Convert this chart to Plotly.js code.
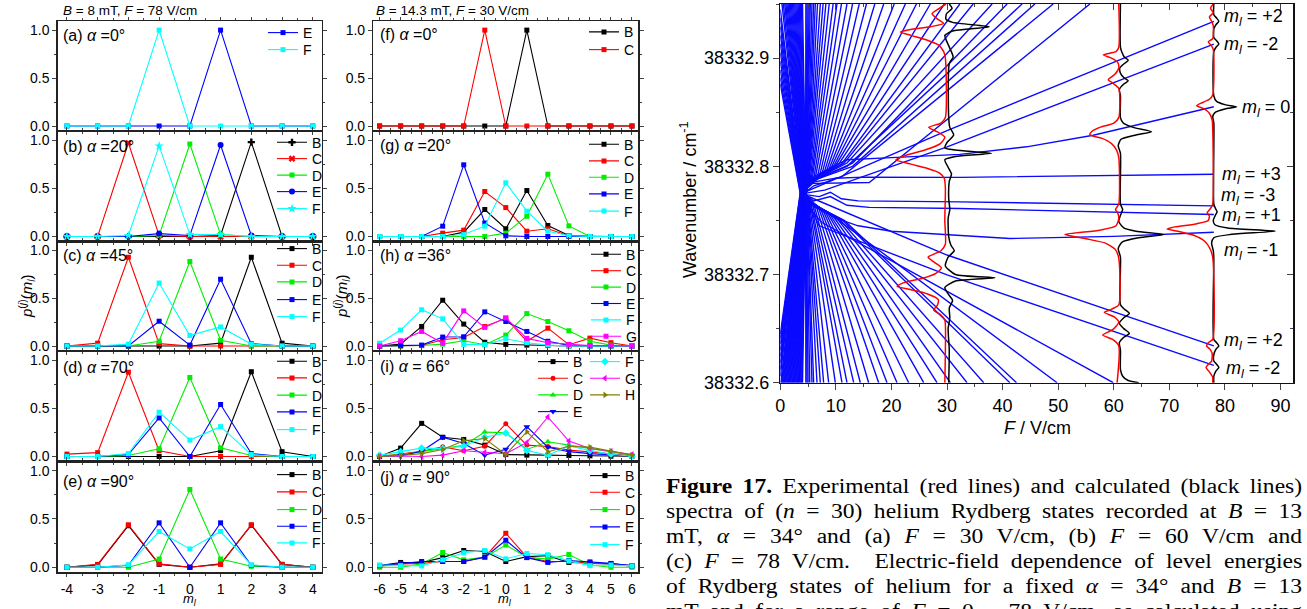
<!DOCTYPE html>
<html><head><meta charset="utf-8">
<script src="https://cdn.plot.ly/plotly-3.0.1.min.js"></script>
<style>
html,body{margin:0;padding:0;background:#fff;overflow:hidden;width:1307px;height:609px;}
#chart{position:absolute;left:0;top:0;width:1307px;height:609px;}
.cap{position:absolute;left:666px;width:540px;transform:scaleX(1.178);transform-origin:0 0;font-family:"Liberation Serif","DejaVu Serif",serif;font-size:20px;line-height:25px;height:25px;text-align:justify;text-align-last:justify;color:#000;}
</style></head>
<body>
<div id="chart"></div>
<div class="cap" style="top:474px"><b>Figure 17.</b> Experimental (red lines) and calculated (black lines)</div>
<div class="cap" style="top:499px">spectra of (<i>n</i> = 30) helium Rydberg states recorded at <i>B</i> = 13</div>
<div class="cap" style="top:524px">mT, <i>α</i> = 34° and (a) <i>F</i> = 30 V/cm, (b) <i>F</i> = 60 V/cm and</div>
<div class="cap" style="top:549px">(c) <i>F</i> = 78 V/cm.&nbsp; Electric-field dependence of level energies</div>
<div class="cap" style="top:574px">of Rydberg states of helium for a fixed <i>α</i> = 34° and <i>B</i> = 13</div>
<div class="cap" style="top:599px">mT and for a range of <i>F</i> = 0 – 78 V/cm, as calculated using</div>
<script>
// ---------------- data: left column (B = 8 mT, F = 78 V/cm) ----------------
const mlLeft = [-4,-3,-2,-1,0,1,2,3,4];
const a_E = [0,0,0,0,0,1,0,0,0];
const a_F = [0,0,0,1,0,0,0,0,0];
const b_B = [0,0,0,0,0,0.01,0.98,0,0];
const b_C = [0,0,0.97,0.01,0,0,0,0,0];
const b_D = [0,0,0,0.01,0.96,0.02,0,0,0];
const b_E = [0,0,0,0.03,0.01,0.95,0.01,0,0];
const b_F = [0,0,0.01,0.94,0.02,0.02,0,0,0];
const c_B = [0,0,0,0,0,0.03,0.93,0.03,0];
const c_C = [0,0.03,0.93,0.025,0,0,0,0,0];
const c_D = [0,0,0,0.05,0.885,0.06,0,0,0];
const c_E = [0,0,0,0.26,0.01,0.70,0.025,0,0];
const c_F = [0,0,0.02,0.66,0.11,0.20,0.02,0,0];
const d_B = [0,0,0,0,0,0.06,0.88,0.05,0];
const d_C = [0.025,0.04,0.875,0.06,0,0,0,0,0];
const d_D = [0,0,0.01,0.08,0.82,0.09,0.01,0,0];
const d_E = [0,0,0.02,0.40,0,0.54,0.03,0,0];
const d_F = [0,0,0.03,0.46,0.17,0.31,0.02,0,0];
const e_B = [0,0.025,0.43,0.03,0,0.035,0.435,0.03,0];
const e_C = [0,0.03,0.44,0.035,0,0.03,0.44,0.03,0];
const e_D = [0,0,0,0.085,0.805,0.085,0.01,0,0];
const e_E = [0,0,0.02,0.46,0,0.46,0.02,0,0];
const e_F = [0,0,0.025,0.37,0.19,0.37,0.025,0,0];
// ---------------- data: middle column (B = 14.3 mT, F = 30 V/cm) ----------------
const mlMid = [-6,-5,-4,-3,-2,-1,0,1,2,3,4,5,6];
const f_B = [0,0,0,0,0,0,0,1,0,0,0,0,0];
const f_C = [0,0,0,0,0,1,0,0,0,0,0,0,0];
const g_B = [0,0,0,0,0.045,0.28,0.08,0.477,0.114,0.01,0,0,0];
const g_C = [0,0,0,0.035,0.066,0.467,0.30,0.055,0.08,0.007,0,0,0];
const g_D = [0,0,0,0,0,0,0.035,0.21,0.647,0.11,0,0,0];
const g_E = [0,0,0,0.107,0.744,0.14,0.007,0,0,0,0,0,0];
const g_F = [0,0,0,0,0.02,0.107,0.557,0.263,0.055,0.007,0,0,0];
const h_B = [0,0.02,0.205,0.48,0.23,0.04,0.017,0.01,0.005,0,0,0,0];
const h_C = [0,0,0.005,0.066,0.09,0.205,0.29,0.05,0.187,0.014,0.083,0.035,0];
const h_D = [0,0,0.005,0.02,0.055,0.014,0.115,0.34,0.257,0.16,0.05,0.01,0];
const h_E = [0,0.005,0.01,0.094,0.097,0.358,0.257,0.153,0.05,0.007,0,0,0];
const h_F = [0.03,0.167,0.38,0.285,0.017,0.014,0.076,0.035,0.01,0,0,0,0];
const h_G = [0,0.055,0.153,0.03,0.368,0.195,0.295,0.08,0.035,0.017,0.005,0.005,0];
const i_B = [0,0.087,0.344,0.2,0.177,0.118,0.02,0.014,0.014,0.01,0.007,0.003,0.003];
const i_C = [0,0.024,0.055,0.1,0.06,0.107,0.34,0.118,0.104,0.066,0.05,0.028,0.007];
const i_D = [0.007,0.017,0.05,0.083,0.115,0.253,0.246,0.073,0.153,0.118,0.083,0.05,0.014];
const i_E = [0,0.007,0.055,0.2,0.135,0.014,0.076,0.31,0.097,0.05,0.03,0.014,0.003];
const i_F = [0.014,0.05,0.087,0.083,0.107,0.2,0.243,0.062,0.014,0.11,0.062,0.024,0.003];
const i_G = [0,0.005,0,0.014,0.06,0.042,0.028,0.146,0.41,0.16,0.083,0.055,0.02];
const i_H = [0,0.01,0.03,0.073,0.163,0.187,0.02,0.257,0.05,0.107,0.097,0.055,0.014];
const j_B = [0.017,0.05,0.05,0.1,0.174,0.164,0.06,0.11,0.12,0.05,0.045,0.035,0.017];
const j_C = [0.01,0.035,0.04,0.06,0.06,0.105,0.352,0.105,0.06,0.06,0.04,0.035,0.01];
const j_D = [0,0,0.035,0.153,0.077,0.105,0.23,0.105,0.084,0.132,0.024,0,0];
const j_E = [0.017,0.038,0.06,0.06,0.06,0.105,0.28,0.1,0.05,0.07,0.056,0.04,0.014];
const j_F = [0.024,0.017,0.014,0.077,0.15,0.174,0.087,0.143,0.13,0.066,0.017,0.024,0.014];

// ---------------- data: Stark map (F in V/cm, wavenumber in cm^-1) ----------------
// levels coming from the upper left, crossing near F = 4 V/cm, leaving through the bottom edge
const upInF   = [4.0,3.8,3.6,3.4,3.2,3.0,2.8,2.6,2.4,2.2,2.0,1.8,1.6,1.4,1.2,1.0,0.8,0.55,0.3,0,0,0,0,0,0,0,0,0,0];
const upInW   = [38332.95,38332.95,38332.95,38332.95,38332.95,38332.95,38332.95,38332.95,38332.95,38332.95,38332.95,38332.95,38332.95,38332.95,38332.95,38332.95,38332.95,38332.95,38332.95,
                 38332.945,38332.937,38332.929,38332.921,38332.913,38332.905,38332.897,38332.889,38332.882,38332.876];
const upMidF  = [4.50,4.47,4.45,4.42,4.40,4.37,4.35,4.32,4.30,4.27,4.25,4.22,4.20,4.17,4.15,4.12,4.10,4.07,4.05,4.02,4.00,3.97,3.95,3.92,3.90,3.87,3.85,3.82,3.80];
const upMidW  = [38332.783,38332.7825,38332.782,38332.7815,38332.781,38332.7805,38332.780,38332.7795,38332.779,38332.7785,38332.778,38332.7775,38332.777,38332.7765,38332.776,38332.7755,38332.775,38332.7745,38332.774,38332.7735,38332.773,38332.7725,38332.772,38332.7715,38332.771,38332.7705,38332.770,38332.7695,38332.769];
const upBendF = [4.55,4.6,4.65,4.7,4.75,4.8,4.85,4.9,4.95,5.05,5.2,5.4,5.6,5.9,6.2,6.6,7.0,7.4,7.8,8.2,8.6,9.0,9.5,10.0,10.5,11.0,11.5,10.0,7.5];
const upBendW = [38332.780,38332.778,38332.776,38332.774,38332.772,38332.771,38332.770,38332.769,38332.768,38332.767,38332.766,38332.765,38332.764,38332.763,38332.762,38332.761,38332.760,38332.759,38332.758,38332.757,38332.756,38332.755,38332.754,38332.753,38332.752,38332.751,38332.750,38332.752,38332.748];
const upOutF  = [4.6,4.8,5.0,5.3,5.7,6.0,6.6,7.2,7.8,8.7,9.9,11.1,12.0,13.2,14.4,15.9,17.7,19.2,21.0,23.1,25.8,28.2,30.6,33.6,36.6,41.3,42.5,49.8,59.9];
// levels coming from the lower left, crossing near F = 4 V/cm, leaving through the top edge
const loInF   = [4.0,3.85,3.7,3.55,3.4,3.25,3.1,2.95,2.8,2.65,2.5,2.35,2.2,2.05,1.9,1.75,1.6,1.45,1.3,1.15,1.0,0.85,0.7,0.55,0.4,0.25,0.1,0,0,0,0,0,0,0,0];
const loInW   = [38332.6,38332.6,38332.6,38332.6,38332.6,38332.6,38332.6,38332.6,38332.6,38332.6,38332.6,38332.6,38332.6,38332.6,38332.6,38332.6,38332.6,38332.6,38332.6,38332.6,38332.6,38332.6,38332.6,38332.6,38332.6,38332.6,38332.6,
                 38332.606,38332.612,38332.618,38332.624,38332.630,38332.636,38332.641,38332.645];
const loMidF  = [4.50,4.48,4.46,4.44,4.42,4.40,4.38,4.36,4.34,4.32,4.30,4.28,4.26,4.24,4.22,4.20,4.18,4.16,4.14,4.12,4.10,4.08,4.06,4.04,4.02,4.00,3.98,3.96,3.94,3.92,3.90,3.88,3.86,3.84,3.82];
const loMidW  = [38332.767,38332.7675,38332.768,38332.7685,38332.769,38332.7695,38332.770,38332.7705,38332.771,38332.7715,38332.772,38332.7725,38332.773,38332.7735,38332.774,38332.7745,38332.775,38332.7755,38332.776,38332.7765,38332.777,38332.7775,38332.778,38332.7785,38332.779,38332.7795,38332.780,38332.7805,38332.781,38332.7815,38332.782,38332.7825,38332.783,38332.7835,38332.784];
const loBendF = [4.55,4.6,4.65,4.7,4.75,4.8,4.85,4.9,4.95,5.0,5.05,5.2,5.4,5.6,5.8,6.1,6.4,6.8,7.2,7.6,8.0,8.4,8.8,9.2,9.6,10.0,10.5,11.0,11.5,12.0,13.0,12.0,13.0,11.0,16.0];
const loBendW = [38332.769,38332.771,38332.773,38332.775,38332.777,38332.779,38332.781,38332.782,38332.783,38332.784,38332.785,38332.787,38332.788,38332.789,38332.790,38332.791,38332.792,38332.793,38332.794,38332.795,38332.796,38332.797,38332.798,38332.799,38332.800,38332.801,38332.802,38332.802,38332.803,38332.803,38332.803,38332.800,38332.800,38332.790,38332.785];
const loOutF  = [4.6,4.8,5.0,5.2,5.4,5.7,6.0,6.3,6.7,7.2,7.7,8.2,8.8,9.5,10.2,11.0,12.0,13.0,14.2,15.5,17.0,18.6,20.5,22.5,24.5,27.0,29.5,32.3,34.7,38.1,40.8,43.5,45.8,49.1,55.7];
// levels followed up to F = 78 V/cm (labelled m_l)
const lvlP2upF = [4.3,8,30,61,78],                 lvlP2upW = [38332.776,38332.784,38332.833,38332.898,38332.934];
const lvlM2upF = [4.3,8,30,61,78],                 lvlM2upW = [38332.775,38332.778,38332.818,38332.879,38332.913];
const lvl0F    = [4.3,7,9.5,12,20,32.3,44.3,56.3,78], lvl0W = [38332.777,38332.790,38332.800,38332.806,38332.808,38332.811,38332.818,38332.8287,38332.855];
const lvlP3F   = [4.3,6,8,10,15,32.3,78],          lvlP3W = [38332.775,38332.782,38332.785,38332.789,38332.790,38332.7898,38332.7926];
const lvlM3F   = [4.3,7,9,11,14,32.3,78],          lvlM3W = [38332.774,38332.772,38332.776,38332.770,38332.768,38332.7671,38332.7634];
const lvlP1F   = [4.3,6,9,12,16,32.3,78],          lvlP1W = [38332.774,38332.768,38332.772,38332.764,38332.762,38332.761,38332.7554];
const lvlM1F   = [4.3,7,10,14,20,32.3,41.3,60,78], lvlM1W = [38332.773,38332.762,38332.752,38332.745,38332.740,38332.7363,38332.7333,38332.7352,38332.739];
const lvlP2loF = [4.3,6,30,61,78],                 lvlP2loW = [38332.774,38332.770,38332.718,38332.664,38332.634];
const lvlM2loF = [4.3,7,30,61,78],                 lvlM2loW = [38332.773,38332.745,38332.6996,38332.6456,38332.616];
// spectra: calculated (black) and experimental (red), drawn as field offset vs wavenumber
const spec30bW = [38332.950,38332.946,38332.941,38332.936,38332.933,38332.929,38332.925,38332.921,38332.916,38332.908,38332.901,38332.895,38332.845,38332.836,38332.829,38332.822,38332.817,38332.815,38332.812,38332.809,38332.806,38332.800,38332.793,38332.786,38332.770,38332.760,38332.752,38332.735,38332.727,38332.722,38332.716,38332.708,38332.700,38332.697,38332.694,38332.688,38332.682,38332.676,38332.669,38332.660,38332.650,38332.630,38332.600];
const spec30bF = [30.4,30.9,29.9,29.8,31.0,37.6,31.0,29.6,29.9,30.6,31.1,30.4,30.3,30.5,31.2,30.0,29.6,31.5,38.0,31.5,29.6,30.1,30.8,30.4,30.3,30.5,30.2,30.3,30.7,31.3,30.2,29.7,31.5,38.6,31.5,29.6,30.2,31.0,30.4,30.5,30.2,30.4,30.3];
const spec30rW = [38332.950,38332.946,38332.941,38332.936,38332.932,38332.929,38332.926,38332.924,38332.921,38332.917,38332.912,38332.906,38332.900,38332.845,38332.840,38332.836,38332.832,38332.827,38332.821,38332.815,38332.810,38332.806,38332.802,38332.798,38332.794,38332.789,38332.780,38332.750,38332.728,38332.722,38332.716,38332.711,38332.706,38332.701,38332.697,38332.692,38332.689,38332.686,38332.682,38332.677,38332.672,38332.667,38332.663,38332.658,38332.630,38332.600];
const spec30rF = [29.8,28.6,27.3,28.3,29.4,27.0,23.0,21.6,23.5,26.2,28.5,29.4,29.7,29.7,28.9,26.7,28.2,29.6,28.8,26.0,22.5,20.8,23.5,26.5,28.6,29.5,29.7,29.6,29.7,28.9,26.6,27.8,29.0,28.0,26.0,22.0,21.0,23.5,26.5,28.4,28.3,27.6,28.8,29.6,29.7,29.6];
const spec61bW = [38332.950,38332.910,38332.905,38332.901,38332.898,38332.895,38332.891,38332.886,38332.882,38332.879,38332.876,38332.871,38332.865,38332.845,38332.840,38332.836,38332.832,38332.829,38332.825,38332.819,38332.812,38332.765,38332.760,38332.756,38332.749,38332.743,38332.740,38332.737,38332.734,38332.730,38332.724,38332.716,38332.672,38332.668,38332.664,38332.660,38332.655,38332.650,38332.6456,38332.642,38332.637,38332.630,38332.612,38332.606,38332.602,38332.600];
const spec61bF = [61.2,61.2,61.5,61.9,62.6,61.9,61.1,61.2,61.8,62.6,61.8,61.0,61.2,61.2,61.7,63.5,66.8,64.0,61.3,60.8,61.2,61.2,61.6,61.3,60.9,61.8,64.0,69.0,64.5,61.5,60.8,61.2,61.2,61.9,62.8,61.8,61.0,61.8,62.8,61.8,61.0,61.2,61.2,61.6,62.6,64.5];
const spec61rW = [38332.950,38332.910,38332.906,38332.903,38332.900,38332.896,38332.891,38332.885,38332.880,38332.877,38332.872,38332.845,38332.840,38332.836,38332.832,38332.829,38332.826,38332.821,38332.815,38332.808,38332.765,38332.760,38332.757,38332.752,38332.745,38332.741,38332.737,38332.733,38332.729,38332.723,38332.715,38332.672,38332.668,38332.665,38332.661,38332.656,38332.649,38332.644,38332.640,38332.634,38332.600];
const spec61rF = [60.9,60.9,60.4,58.1,59.6,60.7,60.9,60.2,59.0,59.8,60.9,60.9,60.0,57.5,56.0,55.7,57.8,59.6,60.5,60.9,60.9,60.3,60.7,60.9,60.4,57.5,51.2,55.0,58.5,60.3,60.9,60.9,59.6,58.3,60.0,60.9,59.8,58.0,59.8,60.9,60.6];
const spec78bW = [38332.950,38332.940,38332.937,38332.934,38332.931,38332.927,38332.919,38332.916,38332.913,38332.910,38332.906,38332.865,38332.860,38332.857,38332.855,38332.853,38332.850,38332.846,38332.840,38332.765,38332.761,38332.758,38332.755,38332.750,38332.746,38332.743,38332.740,38332.737,38332.734,38332.729,38332.722,38332.715,38332.640,38332.637,38332.634,38332.631,38332.626,38332.620,38332.617,38332.614,38332.611,38332.606,38332.600];
const spec78bF = [78.0,78.0,78.5,78.9,78.4,78.0,78.0,78.5,78.9,78.4,78.0,78.0,78.5,80.0,82.1,80.0,78.3,77.8,78.0,78.0,78.3,78.6,78.3,77.9,78.2,80.5,89.0,81.0,78.0,77.6,77.9,78.0,78.0,78.5,78.9,78.4,78.0,78.0,78.5,78.9,78.4,78.0,78.0];
const spec78rW = [38332.950,38332.946,38332.942,38332.938,38332.934,38332.930,38332.918,38332.915,38332.912,38332.908,38332.866,38332.862,38332.859,38332.856,38332.853,38332.849,38332.843,38332.835,38332.765,38332.761,38332.757,38332.754,38332.750,38332.747,38332.744,38332.742,38332.740,38332.736,38332.731,38332.724,38332.716,38332.640,38332.637,38332.634,38332.631,38332.627,38332.620,38332.617,38332.614,38332.610,38332.605,38332.600];
const spec78rF = [77.9,77.4,77.9,77.2,77.6,77.9,77.8,77.0,77.5,77.9,77.8,77.2,76.0,74.9,76.3,77.2,77.7,77.8,77.8,77.4,76.8,77.2,77.0,75.0,71.0,69.6,71.5,74.5,76.3,77.3,77.8,77.8,77.0,76.7,77.3,77.7,77.6,77.0,76.6,77.2,77.8,77.8];
// m_l labels of the levels at F = 78 V/cm
const mlLabels = ['+2','-2','0','+3','-3','+1','-1','+2','-2'];
// ---------------------------------------------------------------------------

const W = 1307, H = 609;
const px = v => v / W, py = v => 1 - v / H;
const COL = {B:'#000000', C:'#ff0000', D:'#00ee00', E:'#0000ff', F:'#00ffff', G:'#ff00ff', H:'#808000'};
const FONT = 'Liberation Sans, Arial, sans-serif';
const traces = [];
const layout = {
  width: W, height: H, margin: {l:0, r:0, t:0, b:0},
  paper_bgcolor: '#ffffff', plot_bgcolor: 'rgba(0,0,0,0)',
  font: {family: FONT, color: '#000', size: 14},
  showlegend: true, annotations: []
};

const colX = [[57.7, 322], [373.3, 638.3]];
const rows = [[21, 131], [131, 241.5], [241.5, 351], [351, 461.5], [461.5, 572.3]];
for (let c = 0; c < 2; c++) {
  for (let r = 0; r < 5; r++) {
    const n = c * 5 + r + 1;
    const tv = c === 0 ? mlLeft : mlMid;
    layout['xaxis' + n] = {
      domain: [px(colX[c][0]), px(colX[c][1])], range: c === 0 ? [-4.3, 4.3] : [-6.3, 6.3],
      anchor: 'y' + n, tickvals: tv, ticktext: tv.map(String), ticks: 'outside', ticklen: 3,
      showticklabels: r === 4, mirror: 'ticks', showline: true, linecolor: '#222', linewidth: 1.4,
      showgrid: false, zeroline: false, tickfont: {size: 14, family: FONT},
      minor: {ticks: 'outside', ticklen: 2, dtick: 0.5, tick0: 0}
    };
    layout['yaxis' + n] = {
      domain: [py(rows[r][1]), py(rows[r][0])], range: [-0.052, 1.095], anchor: 'x' + n,
      tickvals: [0, 0.5, 1], ticktext: ['0.0', '0.5', '1.0'], ticks: 'outside', ticklen: 4,
      mirror: 'ticks', showline: true, linecolor: '#222', linewidth: 1.4, showgrid: false, zeroline: false,
      tickfont: {size: 14, family: FONT}, minor: {ticks: 'outside', ticklen: 2, dtick: 0.25, tick0: 0}
    };
  }
}

// one legend per entry so that entries can sit as close together as in the figure
let legCount = 0;
function addPanel(n, xs, series, textX, ys) {
  series.forEach((s, k) => {
    const id = legCount === 0 ? 'legend' : 'legend' + (legCount + 1);
    legCount++;
    layout[id] = {x: px(textX - 40), y: py(ys[k]), xanchor: 'left', yanchor: 'middle',
      bgcolor: 'rgba(0,0,0,0)', borderwidth: 0, font: {size: 14, family: FONT}, itemwidth: 30};
    traces.push({
      type: 'scatter', mode: 'lines+markers', x: xs, y: s.y, name: s.name,
      xaxis: 'x' + n, yaxis: 'y' + n, legend: id, showlegend: true,
      line: {color: COL[s.name], width: 1.1},
      marker: {color: COL[s.name], size: s.size || 5, symbol: s.sym || 'square'},
      cliponaxis: false
    });
  });
}
addPanel(1, mlLeft, [{name:'E', y:a_E}, {name:'F', y:a_F}], 303, [33, 50]);
addPanel(2, mlLeft, [{name:'B', y:b_B, sym:'cross', size:6}, {name:'C', y:b_C, sym:'x', size:6}, {name:'D', y:b_D}, {name:'E', y:b_E, sym:'circle', size:6}, {name:'F', y:b_F, sym:'star', size:7}], 312, [142.7, 159, 175.5, 192, 209]);
addPanel(3, mlLeft, [{name:'B', y:c_B}, {name:'C', y:c_C}, {name:'D', y:c_D}, {name:'E', y:c_E}, {name:'F', y:c_F}], 312, [249, 265.7, 282.3, 300, 317]);
addPanel(4, mlLeft, [{name:'B', y:d_B}, {name:'C', y:d_C}, {name:'D', y:d_D}, {name:'E', y:d_E}, {name:'F', y:d_F}], 312, [361.7, 378.3, 395.5, 412.3, 430]);
addPanel(5, mlLeft, [{name:'B', y:e_B}, {name:'C', y:e_C}, {name:'D', y:e_D}, {name:'E', y:e_E}, {name:'F', y:e_F}], 312, [475, 492.3, 510, 526.7, 543.3]);
addPanel(6, mlMid, [{name:'B', y:f_B}, {name:'C', y:f_C}], 624, [32.3, 50]);
addPanel(7, mlMid, [{name:'B', y:g_B}, {name:'C', y:g_C}, {name:'D', y:g_D}, {name:'E', y:g_E}, {name:'F', y:g_F}], 624, [144.7, 161.3, 177.7, 194.3, 211.5]);
addPanel(8, mlMid, [{name:'B', y:h_B}, {name:'C', y:h_C}, {name:'D', y:h_D}, {name:'E', y:h_E}, {name:'F', y:h_F}, {name:'G', y:h_G}], 626, [254.7, 271.1, 287.5, 303.9, 320.3, 336.7]);
addPanel(9, mlMid, [{name:'B', y:i_B}, {name:'C', y:i_C, sym:'circle'}, {name:'D', y:i_D, sym:'triangle-up', size:6}, {name:'E', y:i_E, sym:'triangle-down', size:6}], 573, [362, 378.7, 395.3, 412]);
addPanel(9, mlMid, [{name:'F', y:i_F, sym:'diamond', size:6}, {name:'G', y:i_G, sym:'triangle-left', size:6}, {name:'H', y:i_H, sym:'triangle-right', size:6}], 625, [362, 378.7, 395.3]);
addPanel(10, mlMid, [{name:'B', y:j_B}, {name:'C', y:j_C}, {name:'D', y:j_D}, {name:'E', y:j_E}, {name:'F', y:j_F}], 625, [476, 492.7, 510, 527.3, 545]);

// ---------------- Stark map ----------------
const blueX = [], blueY = [];
upOutF.forEach((f, k) => {
  blueX.push(upInF[k], upMidF[k], upBendF[k], f, null);
  blueY.push(upInW[k], upMidW[k], upBendW[k], 38332.6, null);
});
loOutF.forEach((f, k) => {
  blueX.push(loInF[k], loMidF[k], loBendF[k], f, null);
  blueY.push(loInW[k], loMidW[k], loBendW[k], 38332.95, null);
});
[[lvlP2upF, lvlP2upW], [lvlM2upF, lvlM2upW], [lvl0F, lvl0W], [lvlP3F, lvlP3W], [lvlM3F, lvlM3W],
 [lvlP1F, lvlP1W], [lvlM1F, lvlM1W], [lvlP2loF, lvlP2loW], [lvlM2loF, lvlM2loW]].forEach(([fx, wy]) => {
  fx.forEach((f, k) => { blueX.push(f); blueY.push(wy[k]); });
  blueX.push(null); blueY.push(null);
});
traces.push({type: 'scatter', mode: 'lines', x: blueX, y: blueY, xaxis: 'x11', yaxis: 'y11',
  line: {color: '#0a0aff', width: 1.4}, showlegend: false, hoverinfo: 'skip'});
[[spec30bF, spec30bW, '#000'], [spec61bF, spec61bW, '#000'], [spec78bF, spec78bW, '#000'],
 [spec30rF, spec30rW, '#ff0000'], [spec61rF, spec61rW, '#ff0000'], [spec78rF, spec78rW, '#ff0000']].forEach(([fx, wy, col]) => {
  traces.push({type: 'scatter', mode: 'lines', x: fx, y: wy, xaxis: 'x11', yaxis: 'y11',
    line: {color: col, width: 1.5, shape: 'spline', smoothing: 0.6}, showlegend: false, hoverinfo: 'skip'});
});
traces.push({type: 'scatter', mode: 'lines', x: [null], y: [null], xaxis: 'x12', yaxis: 'y12', showlegend: false});

const rdom = [px(780.3), px(1293.3)], rdomY = [py(382.7), py(4)];
layout.xaxis11 = {domain: rdom, range: [0, 92.3], anchor: 'y11', dtick: 10, tick0: 0, ticks: 'outside', ticklen: 6,
  showline: true, mirror: true, linecolor: '#111', linewidth: 1.5, showgrid: false, zeroline: false,
  tickfont: {size: 18, family: FONT}, minor: {ticks: 'outside', ticklen: 3, dtick: 5, tick0: 0}};
layout.yaxis11 = {domain: rdomY, range: [38332.6, 38332.95], anchor: 'x11', dtick: 0.1, tick0: 38332.6, tickformat: '.1f',
  ticks: 'outside', ticklen: 6, showline: true, mirror: true, linecolor: '#111', linewidth: 1.5, showgrid: false, zeroline: false,
  tickfont: {size: 18, family: FONT}, minor: {ticks: 'outside', ticklen: 3, dtick: 0.05, tick0: 38332.6}};
layout.xaxis12 = {domain: rdom, range: [0, 92.3], overlaying: 'x11', side: 'top', anchor: 'y12', dtick: 10, tick0: 0,
  ticks: 'inside', ticklen: 6, showticklabels: false, showgrid: false, zeroline: false, showline: false,
  minor: {ticks: 'inside', ticklen: 3, dtick: 5, tick0: 0}};
layout.yaxis12 = {domain: rdomY, range: [38332.6, 38332.95], overlaying: 'y11', side: 'right', anchor: 'x12', dtick: 0.1, tick0: 38332.6,
  ticks: 'inside', ticklen: 6, showticklabels: false, showgrid: false, zeroline: false, showline: false,
  minor: {ticks: 'inside', ticklen: 3, dtick: 0.05, tick0: 38332.6}};

// ---------------- text ----------------
const A = layout.annotations;
function txt(x, y, t, size, opts) {
  A.push(Object.assign({xref: 'paper', yref: 'paper', x: px(x), y: py(y), text: t, showarrow: false,
    xanchor: 'left', yanchor: 'middle', font: {size: size, family: FONT, color: '#000'}}, opts || {}));
}
txt(61, 11, '<i>B</i> = 8 mT, <i>F</i> = 78 V/cm', 13.5);
txt(374, 11, '<i>B</i> = 14.3 mT, <i>F</i> = 30 V/cm', 13.5);
const panelLabels = [
  ['(a) <i>α</i> =0°', 61, 35], ['(b) <i>α</i> =20°', 61, 146.5], ['(c) <i>α</i> =45°', 61, 256], ['(d) <i>α</i> =70°', 61, 367], ['(e) <i>α</i> =90°', 61, 481],
  ['(f) <i>α</i> =0°', 378, 34], ['(g) <i>α</i> =20°', 378, 145], ['(h) <i>α</i> =36°', 378, 256], ['(i) <i>α</i> = 66°', 378, 366.5], ['(j) <i>α</i> = 90°', 378, 477.5]];
panelLabels.forEach(([t, x, y]) => txt(x, y, t, 16));
const pTitle = '<i>p</i><sup>(<i>j</i>)</sup>(<i>m</i><sub><i>l</i></sub>)';
txt(26, 296, pTitle, 15, {textangle: -90, xanchor: 'center'});
txt(341, 296, pTitle, 15, {textangle: -90, xanchor: 'center'});
txt(190, 599.5, '<i>m</i><sub><i>l</i></sub>', 13, {xanchor: 'center'});
txt(505, 599.5, '<i>m</i><sub><i>l</i></sub>', 13, {xanchor: 'center'});
txt(688, 200, 'Wavenumber / cm<sup>-1</sup>', 18, {textangle: -90, xanchor: 'center'});
txt(1037, 428, '<i>F</i> / V/cm', 18, {xanchor: 'center'});
const mlPos = [[1222, 18], [1222, 45], [1240, 108], [1220, 175], [1219, 197], [1220, 216], [1222, 252], [1222, 341], [1224, 369]];
mlLabels.forEach((m, k) => txt(mlPos[k][0], mlPos[k][1], '<i>m</i><sub><i>l</i></sub> = ' + m, 18));

Plotly.newPlot('chart', traces, layout, {staticPlot: true, displayModeBar: false});
</script>
</body></html>
